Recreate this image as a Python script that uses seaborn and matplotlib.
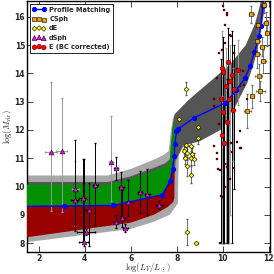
import numpy as np
import matplotlib
matplotlib.use("Agg")
import matplotlib.pyplot as plt
import seaborn as sns

# profile matching relation
pm_x = [1.0, 3.12, 5.24, 7.38, 7.72, 7.82, 7.89, 7.92, 7.99, 8.07, 8.75, 10.1,
        10.59, 10.97, 11.18, 11.38, 11.57, 11.66, 11.75]
pm_y = [9.30, 9.31, 9.33, 9.71, 10.2, 10.63, 11.07, 11.52, 11.95, 12.04, 12.43,
        12.95, 13.40, 13.84, 14.25, 14.75, 15.31, 15.67, 16.4]

# scatter band (dark grey)
band_up_x = [1.0, 5.0, 6.0, 7.0, 7.5, 7.7, 7.8, 7.9, 8.5, 9.0, 10.3, 11.0, 11.4, 11.6, 11.72]
band_up_y = [10.16, 10.16, 10.36, 10.66, 10.82, 10.96, 12.0, 12.55, 13.05, 13.4, 14.3,
             15.0, 15.75, 16.35, 16.8]
band_lo_x = [1.0, 7.85, 7.95, 8.3, 9.0, 9.9, 10.55, 11.07, 11.36, 11.57, 11.79, 11.95]
band_lo_y = [9.0, 9.5, 10.9, 11.45, 11.6, 12.0, 12.84, 13.67, 14.37, 15.08, 16.14, 16.8]

# outer envelope (light grey), dwarf regime
outer_up_x = [1.0, 5.0, 6.0, 7.0, 7.4, 7.65, 7.75, 7.85]
outer_up_y = [10.39, 10.39, 10.62, 10.95, 11.1, 11.25, 12.0, 12.5]
outer_lo_x = [1.0, 6.0, 7.0, 7.7, 8.05, 8.1]
outer_lo_y = [7.98, 8.5, 8.75, 9.0, 9.4, 11.5]

# upper (green) and lower (red) ranges
green_x = [1.0, 5.0, 6.0, 7.0, 7.5, 7.7, 7.75, 7.85, 7.93]
green_y = [10.07, 10.07, 10.27, 10.56, 10.72, 10.87, 11.5, 12.0, 12.25]
red_x = [7.9, 7.9, 7.85, 7.6, 7.0, 6.0, 1.0]
red_y = [10.6, 9.6, 9.45, 9.27, 9.0, 8.72, 8.15]

# dSph
dsph_x = [2.53, 3.0, 3.6, 3.57, 3.92, 3.95, 4.17, 4.07, 4.46, 5.15, 5.36, 5.59,
          5.37, 5.64, 5.77, 5.9, 6.41, 6.72, 7.25]
dsph_y = [11.22, 11.26, 9.91, 9.53, 9.59, 8.03, 9.16, 8.39, 10.06, 10.88, 10.65, 10.0,
          8.76, 8.88, 8.53, 9.44, 9.80, 9.72, 9.33]
dsph_lo = [9.12, 9.1, 8.59, 8.41, 8.06, 7.9, 7.88, 8.3, 8.65, 9.48, 10.24, 8.94,
           8.53, 8.57, 8.4, 8.94, 9.07, 9.01, 9.19]
dsph_hi = [13.7, 13.13, 10.89, 11.63, 10.97, 10.97, 10.12, 8.5, 11.54, 12.49, 11.06, 10.53,
           9.0, 9.88, 8.66, 10.24, 10.55, 10.63, 9.48]
dsph_xerr = [0.25, 0.25, 0.15, 0.15, 0.15, 0.2, 0.1, 0.4, 0.1, 0.1, 0.1, 0.1,
             0.1, 0.1, 0.1, 0.1, 0.1, 0.1, 0.15]
dsph_grey = [True, True, True, False, False, False, False, False, False, True, False, False,
             False, False, False, False, False, False, False]

# CSph
csph_x = [11.25, 11.79, 11.86, 11.55, 11.92, 11.5, 11.7, 11.48, 11.77, 11.56, 11.63, 11.28, 11.07]
csph_y = [16.1, 16.43, 15.79, 15.73, 15.43, 15.14, 14.95, 14.7, 14.43, 13.9, 13.37, 13.19, 12.66]
csph_yerr = [0.3, 0.3, 0.4, 0.35, 0.45, 0.4, 0.35, 0.5, 0.4, 0.45, 0.35, 0.4, 0.6]
csph_xerr = [0.1, 0.1, 0.12, 0.1, 0.1, 0.12, 0.1, 0.15, 0.1, 0.15, 0.2, 0.1, 0.15]

# dE
de_x = [8.4, 8.12, 8.93, 8.92, 8.4, 8.6, 8.38, 8.31, 8.46, 8.67, 8.38, 8.6, 8.75,
        8.46, 8.63, 8.46, 8.86]
de_y = [13.46, 12.4, 12.1, 11.72, 11.48, 11.42, 11.32, 11.24, 11.18, 11.16, 11.0, 11.0,
        10.97, 10.71, 10.42, 8.39, 8.0]
de_yerr = [0.22, 0.25, 0.2, 0.2, 0.2, 0.25, 0.2, 0.2, 0.25, 0.2, 0.2, 0.25, 0.2,
           0.35, 0.3, 0.45, 0.05]

# E (BC corrected)
e_x = [10.24, 9.98, 10.02, 10.41, 10.66, 10.15, 10.49, 10.28, 9.93, 10.02, 10.44, 10.18,
       9.96, 10.07, 10.3]
e_y = [14.41, 14.2, 14.04, 13.93, 14.11, 13.57, 13.46, 13.1, 13.08, 12.64, 12.7, 12.28,
       11.81, 11.55, 13.75]
e_lo = [8.0, 8.0, 8.0, 8.0, 12.9, 8.0, 9.9, 8.0, 8.0, 8.0, 10.9, 8.0, 8.0, 8.0, 9.0]
e_hi = [15.6, 15.5, 15.3, 15.5, 15.2, 14.9, 15.0, 14.3, 14.5, 14.0, 14.2, 13.8, 13.2, 13.0, 15.0]
e_grey = [False, True, False, False, True, True, False, True, False, False, True, False,
          True, False, True]

# small E sample
es_x = [10.04, 10.18, 10.33, 10.11, 9.97, 10.47, 9.75, 10.62, 10.9, 10.76, 10.02, 10.2,
        10.12, 10.37, 9.83, 10.5, 9.64, 11.07, 9.6, 10.73, 10.8, 9.75, 10.47, 10.11, 9.9,
        9.63, 10.4, 9.76, 9.8, 9.93, 10.2, 10.34, 10.63, 10.77, 10.08, 9.9, 9.97, 10.3,
        10.92, 9.85]
es_y = [16.26, 16.08, 15.37, 15.08, 14.84, 14.73, 13.84, 14.14, 14.08, 13.55, 16.37, 16.14,
        15.73, 15.31, 14.73, 14.73, 13.1, 13.08, 12.84, 11.96, 11.37, 10.96, 10.66, 10.78,
        10.6, 11.45, 11.22, 11.2, 10.63, 9.65, 10.69, 11.53, 11.59, 11.36, 10.0, 8.0,
        9.63, 10.25, 13.6, 12.2]

sns.set_style("ticks")
plt.rcParams['font.family'] = ['DejaVu Sans']
plt.rcParams['mathtext.fontset'] = 'cm'

fig = plt.figure(figsize=(2.74, 2.74), dpi=100)
ax = fig.add_axes([0.099, 0.082, 0.886, 0.913])

ax.fill(np.concatenate([outer_up_x, outer_lo_x[::-1]]),
        np.concatenate([outer_up_y, outer_lo_y[::-1]]), color='#a8a8a8', lw=0, zorder=1)
ax.fill(np.concatenate([band_up_x, band_lo_x[::-1]]),
        np.concatenate([band_up_y, band_lo_y[::-1]]), color='#555555', lw=0, zorder=2)

pmx = np.array(pm_x)
pmy = np.array(pm_y)
sel = pmx <= 7.99
ax.fill(np.concatenate([green_x, pmx[sel][::-1]]),
        np.concatenate([green_y, pmy[sel][::-1]]), color='#009000', lw=0, zorder=3)
sel = pmx <= 7.83
ax.fill(np.concatenate([pmx[sel], red_x]),
        np.concatenate([pmy[sel], red_y]), color='#990000', lw=0, zorder=3)

sns.lineplot(x=pm_x, y=pm_y, sort=False, color='blue', lw=1, marker='o', markersize=3.0,
             markeredgecolor='blue', label='Profile Matching', ax=ax, zorder=6)

# error bars
for i in range(len(dsph_x)):
    c = '#999999' if dsph_grey[i] else 'black'
    ax.errorbar(dsph_x[i], dsph_y[i],
                yerr=[[dsph_y[i] - dsph_lo[i]], [dsph_hi[i] - dsph_y[i]]],
                xerr=dsph_xerr[i], fmt='none', ecolor=c, elinewidth=0.7, capsize=1.0, zorder=4)
for i in range(len(e_x)):
    c = '#999999' if e_grey[i] else 'black'
    ax.errorbar(e_x[i], e_y[i], yerr=[[e_y[i] - e_lo[i]], [e_hi[i] - e_y[i]]],
                fmt='none', ecolor=c, elinewidth=0.7, capsize=1.0, zorder=4)
ax.errorbar(csph_x, csph_y, yerr=csph_yerr, xerr=csph_xerr, fmt='none', ecolor='#666666',
            elinewidth=0.6, capsize=1.0, zorder=4)
ax.errorbar(de_x, de_y, yerr=de_yerr, xerr=0.05, fmt='none', ecolor='#555555',
            elinewidth=0.6, capsize=1.0, zorder=4)

ax.scatter(es_x, es_y, s=2, marker='s', color='#880000', edgecolor='black', lw=0.2, zorder=5)

sns.scatterplot(x=csph_x, y=csph_y, marker='s', color='#f0a000', edgecolor='black',
                linewidth=0.4, s=8, label='CSph', ax=ax, zorder=7)
sns.scatterplot(x=de_x, y=de_y, marker='D', color='yellow', edgecolor='black',
                linewidth=0.4, s=6, label='dE', ax=ax, zorder=7)
sns.scatterplot(x=dsph_x, y=dsph_y, marker='^', color='magenta', edgecolor='black',
                linewidth=0.4, s=12, label='dSph', ax=ax, zorder=7)
sns.scatterplot(x=e_x, y=e_y, marker='o', color='red', edgecolor='#660000',
                linewidth=0.4, s=11, label='E (BC corrected)', ax=ax, zorder=7)

ax.set_xlim(1.5, 12.05)
ax.set_ylim(7.7, 16.55)
ax.set_xticks([2, 4, 6, 8, 10, 12])
ax.set_yticks([8, 9, 10, 11, 12, 13, 14, 15, 16])
ax.tick_params(direction='in', length=4, width=0.6, top=True, right=True,
               labelsize=5.5, pad=1.5)
for lab in ax.get_xticklabels() + ax.get_yticklabels():
    lab.set_fontweight('bold')
for s in ax.spines.values():
    s.set_linewidth(1.0)
    s.set_color('black')

ax.set_xlabel(r'$\log(L_V/L_\odot)$', fontsize=6.2, labelpad=-1)
ax.set_ylabel(r'$\log(M_{\rm vir})$', fontsize=6.2, labelpad=0.5)

leg = ax.legend(loc='upper left', bbox_to_anchor=(0.0, 1.0), scatterpoints=3, numpoints=2,
                prop={'size': 4.8, 'weight': 'bold'}, fancybox=False, framealpha=1,
                edgecolor='black', handlelength=2.0, borderpad=0.4, labelspacing=0.5,
                handletextpad=0.5, borderaxespad=0.4)
leg.get_frame().set_linewidth(0.6)

fig.savefig('out.png', dpi=100)
